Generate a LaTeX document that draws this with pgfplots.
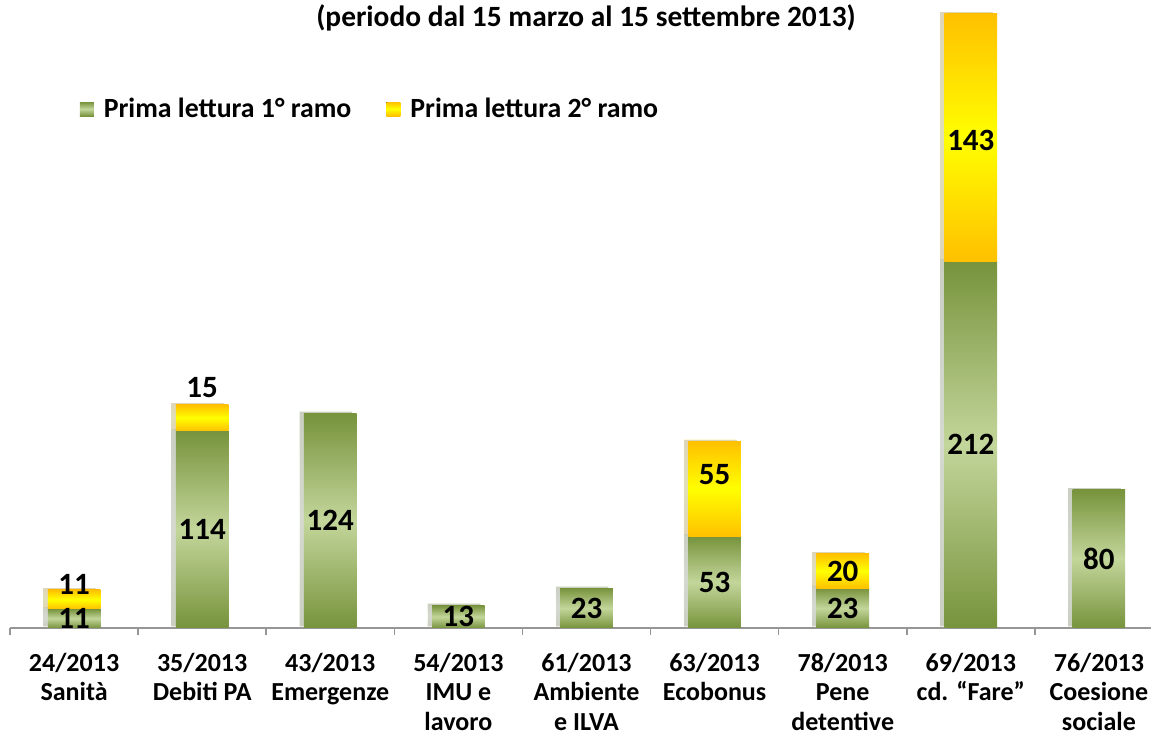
\documentclass[border=0pt]{standalone}
\usepackage{pgfplots}
\usepackage{pgfplotstable}
\pgfplotsset{compat=1.18}
\usetikzlibrary{shadows}
\usepackage{fontspec}
\setmainfont{Carlito}
\definecolor{gdark}{HTML}{77933C}
\definecolor{glight}{HTML}{C3D69B}
\definecolor{ydark}{HTML}{FFC000}
\definecolor{ylight}{HTML}{FFFF00}
\definecolor{axgray}{HTML}{969696}

\pgfplotstableread{
x y lab
0 5.5 11
0 25 11
1 57 114
1 139 15
2 62 124
3 6.5 13
4 11.5 23
5 26.5 53
5 89 55
6 11.5 23
6 32.5 20
7 106 212
7 282 143
8 40 80
}\labels

\begin{document}
\begin{tikzpicture}
\useasboundingbox (-5pt,-54.5pt) rectangle (570.5pt,314pt);
\pgfplotsset{common/.style={at={(0pt,0pt)}, anchor=south west, scale only axis,
  width=576.5pt, height=314pt, xmin=-0.5, xmax=8.5, ymin=0, ymax=363.1},
  gbar/.style={draw=none, top color=gdark, bottom color=gdark, middle color=glight},
  ybarc/.style={draw=none, top color=ydark, bottom color=ydark, middle color=ylight},
  shad/.style={drop shadow={shadow xshift=-2.2pt, shadow yshift=0.8pt, opacity=0.15, fill=black}},
  stackax/.style={common, hide axis, ybar stacked, bar width=26.3pt}}
\begin{axis}[common, ybar, bar shift=0pt, bar width=26.3pt,
  axis y line=none, axis x line*=bottom,
  x axis line style={draw=axgray, line width=1pt},
  xtick={0,...,8}, major tick length=0pt,
  minor xtick={-0.5,0.5,...,8.5}, minor tick length=3.5pt, tick align=outside,
  xtick pos=bottom,
  minor tick style={draw=axgray, line width=0.8pt},
  xticklabels={{24/2013\\Sanità},{35/2013\\Debiti PA},{43/2013\\Emergenze},{54/2013\\IMU e\\lavoro},{61/2013\\Ambiente\\e ILVA},{63/2013\\Ecobonus},{78/2013\\Pene\\detentive},{69/2013\\cd. “Fare”},{76/2013\\Coesione\\sociale}},
  xticklabel style={align=center, font=\fontsize{13}{14.8}\selectfont\bfseries, yshift=-9pt},
  legend columns=2,
  legend style={draw=none, fill=none, at={(rel axis cs:0.055,0.8264)}, anchor=west,
    font=\fontsize{13.9}{16}\selectfont\bfseries,
    /tikz/every even column/.append style={column sep=15.5pt}},
  legend image code/.code={\fill[#1] (0pt,-3.5pt) rectangle (7pt,3.5pt); \path (0pt,0pt) -- (10pt,0pt);},
]
\addlegendimage{gbar}
\addlegendentry{Prima lettura 1° ramo}
\addlegendimage{ybarc}
\addlegendentry{Prima lettura 2° ramo}
\addplot[gbar, shad] coordinates {(0,11)};
\addplot[gbar, shad] coordinates {(1,114)};
\addplot[gbar, shad] coordinates {(2,124)};
\addplot[gbar, shad] coordinates {(3,13)};
\addplot[gbar, shad] coordinates {(4,23)};
\addplot[gbar, shad] coordinates {(5,53)};
\addplot[gbar, shad] coordinates {(6,23)};
\addplot[gbar, shad] coordinates {(7,212)};
\addplot[gbar, shad] coordinates {(8,80)};
\end{axis}
% second-branch segments, each stacked on its first-branch value
\begin{axis}[stackax]
\addplot[draw=none, fill=none] coordinates {(0,11)};
\addplot[ybarc, shad] coordinates {(0,11)};
\end{axis}
\begin{axis}[stackax]
\addplot[draw=none, fill=none] coordinates {(1,114)};
\addplot[ybarc, shad] coordinates {(1,15)};
\end{axis}
\begin{axis}[stackax]
\addplot[draw=none, fill=none] coordinates {(5,53)};
\addplot[ybarc, shad] coordinates {(5,55)};
\end{axis}
\begin{axis}[stackax]
\addplot[draw=none, fill=none] coordinates {(6,23)};
\addplot[ybarc, shad] coordinates {(6,20)};
\end{axis}
\begin{axis}[stackax]
\addplot[draw=none, fill=none] coordinates {(7,212)};
\addplot[ybarc, shad] coordinates {(7,143)};
\end{axis}
\begin{axis}[common, hide axis]
\addplot[draw=none, only marks, mark=none, nodes near coords, point meta=explicit symbolic,
  nodes near coords align={center},
  every node near coord/.append style={font=\fontsize{15.5}{18}\selectfont\bfseries, text=black}]
  table[x=x,y=y,meta=lab]{\labels};
\node[font=\fontsize{14.7}{17}\selectfont\bfseries, anchor=center] at (rel axis cs:0.4996,0.9713) {(periodo dal 15 marzo al 15 settembre 2013)};
\end{axis}
\end{tikzpicture}
\end{document}
